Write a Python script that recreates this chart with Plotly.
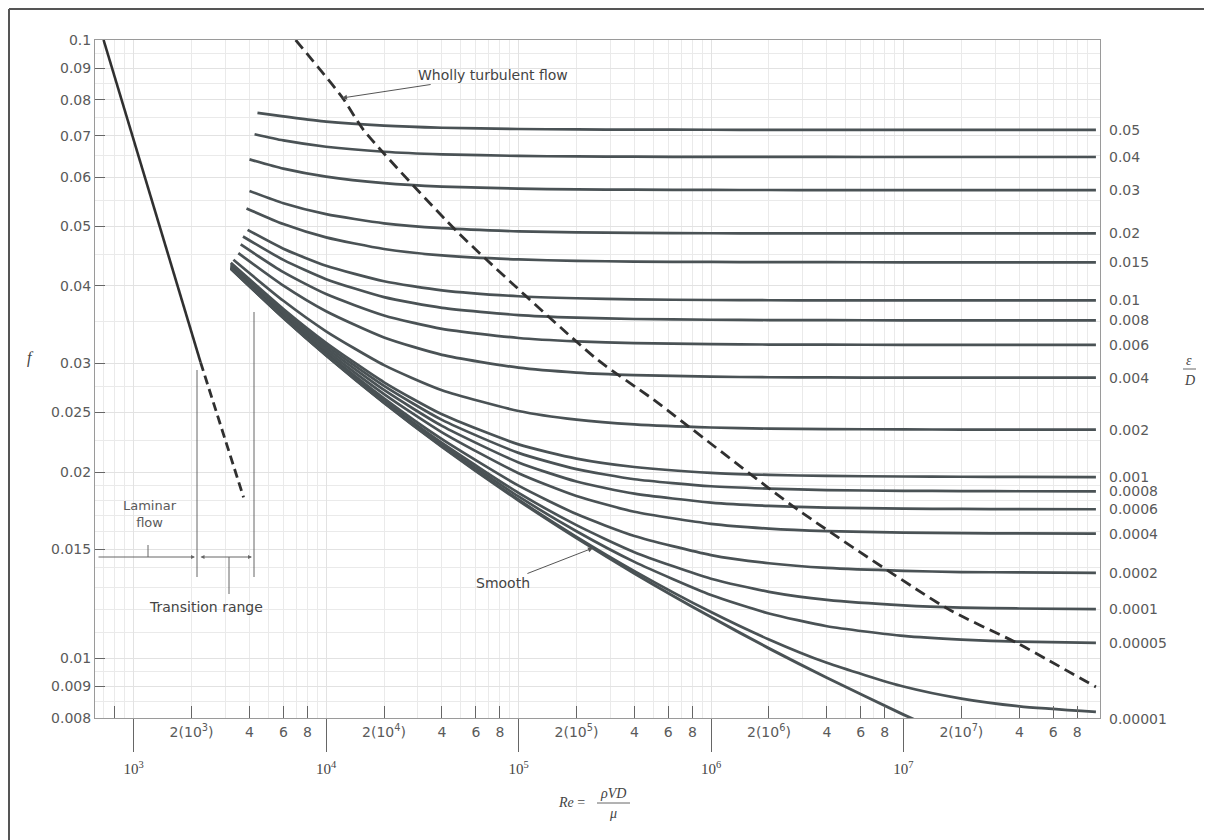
import math
import plotly.graph_objects as go

# ---------------- data ----------------
RE_GRID = [6e3, 1e4, 2e4, 4e4, 1e5, 2e5, 4e5, 1e6, 2e6, 4e6, 1e7, 2e7, 4e7, 1e8]

EPS_LABELS = ["0.05", "0.04", "0.03", "0.02", "0.015", "0.01", "0.008", "0.006",
              "0.004", "0.002", "0.001", "0.0008", "0.0006", "0.0004", "0.0002",
              "0.0001", "0.00005", "0.00001"]
START_RE = [4400, 4250, 4000, 4000, 3860, 3910, 3700, 3600, 3500, 3300,
            3200, 3200, 3200, 3200, 3200, 3200, 3200, 3200]
START_F = [0.0762, 0.0704, 0.0641, 0.0570, 0.0534, 0.0493, 0.0481, 0.0467, 0.0452, 0.0441,
           0.0436, 0.0434, 0.0432, 0.0430, 0.04285, 0.04278, 0.04272, 0.04268]

F_0_05 = [0.07525, 0.07380, 0.07269, 0.07212, 0.07178, 0.07166, 0.07161, 0.07158, 0.07156, 0.07155, 0.07155, 0.07155, 0.07155, 0.07155]
F_0_04 = [0.06879, 0.06719, 0.06595, 0.06532, 0.06493, 0.06480, 0.06474, 0.06470, 0.06469, 0.06468, 0.06467, 0.06467, 0.06467, 0.06467]
F_0_03 = [0.06192, 0.06011, 0.05868, 0.05793, 0.05748, 0.05733, 0.05725, 0.05720, 0.05719, 0.05718, 0.05717, 0.05717, 0.05717, 0.05717]
F_0_02 = [0.05445, 0.05228, 0.05052, 0.04960, 0.04903, 0.04883, 0.04874, 0.04868, 0.04866, 0.04865, 0.04864, 0.04864, 0.04864, 0.04864]
F_0_015 = [0.05037, 0.04793, 0.04591, 0.04483, 0.04415, 0.04392, 0.04381, 0.04374, 0.04371, 0.04370, 0.04369, 0.04369, 0.04369, 0.04369]
F_0_01 = [0.04596, 0.04313, 0.04071, 0.03936, 0.03850, 0.03821, 0.03805, 0.03796, 0.03793, 0.03791, 0.03790, 0.03790, 0.03790, 0.03790]
F_0_008 = [0.04408, 0.04103, 0.03837, 0.03687, 0.03589, 0.03555, 0.03537, 0.03527, 0.03523, 0.03521, 0.03520, 0.03520, 0.03520, 0.03520]
F_0_006 = [0.04211, 0.03881, 0.03584, 0.03410, 0.03295, 0.03254, 0.03233, 0.03220, 0.03216, 0.03214, 0.03213, 0.03212, 0.03212, 0.03212]
F_0_004 = [0.04005, 0.03641, 0.03302, 0.03095, 0.02950, 0.02897, 0.02870, 0.02853, 0.02847, 0.02845, 0.02843, 0.02843, 0.02842, 0.02842]
F_0_002 = [0.03785, 0.03379, 0.02979, 0.02713, 0.02511, 0.02431, 0.02388, 0.02361, 0.02351, 0.02347, 0.02344, 0.02343, 0.02342, 0.02342]
F_0_001 = [0.03671, 0.03237, 0.02794, 0.02480, 0.02217, 0.02103, 0.02038, 0.01994, 0.01979, 0.01971, 0.01967, 0.01965, 0.01964, 0.01963]
F_0_0008 = [0.03645, 0.03209, 0.02757, 0.02429, 0.02148, 0.02022, 0.01947, 0.01897, 0.01880, 0.01870, 0.01865, 0.01863, 0.01862, 0.01861]
F_0_0006 = [0.03622, 0.03179, 0.02715, 0.02375, 0.02073, 0.01931, 0.01845, 0.01785, 0.01763, 0.01752, 0.01745, 0.01743, 0.01742, 0.01741]
F_0_0004 = [0.03600, 0.03150, 0.02674, 0.02319, 0.01991, 0.01829, 0.01725, 0.01649, 0.01620, 0.01605, 0.01596, 0.01593, 0.01591, 0.01590]
F_0_0002 = [0.03577, 0.03120, 0.02631, 0.02260, 0.01901, 0.01710, 0.01576, 0.01468, 0.01424, 0.01399, 0.01384, 0.01378, 0.01376, 0.01374]
F_0_0001 = [0.03563, 0.03104, 0.02610, 0.02229, 0.01851, 0.01641, 0.01484, 0.01344, 0.01280, 0.01242, 0.01217, 0.01207, 0.01203, 0.01200]
F_0_00005 = [0.03556, 0.03097, 0.02599, 0.02214, 0.01826, 0.01604, 0.01431, 0.01265, 0.01181, 0.01126, 0.01086, 0.01071, 0.01063, 0.01058]
F_0_00001 = [0.03552, 0.03090, 0.02590, 0.02201, 0.01804, 0.01571, 0.01383, 0.01187, 0.01072, 0.009825, 0.008995, 0.008599, 0.008356, 0.008187]

SMOOTH_RE = [3200, 6e3, 1e4, 2e4, 4e4, 1e5, 2e5, 4e5, 1e6, 2e6, 4e6, 1e7, 2e7]
SMOOTH_F = [0.04267, 0.03551, 0.03088, 0.02588, 0.02197, 0.01799, 0.01564, 0.01371, 0.01165, 0.01037, 0.009292, 0.008103, 0.007341]

LAMINAR_RE = [698, 2228]
LAMINAR_F = [0.1, 0.0301]
LAMINAR_EXT_RE = [2228, 3726]
LAMINAR_EXT_F = [0.0301, 0.0182]

WHOLLY_RE = [6950, 12190, 15670, 48200, 257000, 502000, 2.81e6, 1.71e7, 3.91e7, 1.0e8]
WHOLLY_F = [0.1, 0.0806, 0.0715, 0.0489, 0.0304, 0.0262, 0.0174, 0.0120, 0.01057, 0.00898]

Y_TICKS = [0.008, 0.009, 0.01, 0.015, 0.02, 0.025, 0.03, 0.04, 0.05, 0.06, 0.07, 0.08, 0.09, 0.1]
Y_TICK_TEXT = ["0.008", "0.009", "0.01", "0.015", "0.02", "0.025", "0.03", "0.04", "0.05",
               "0.06", "0.07", "0.08", "0.09", "0.1"]
X_DECADES = [1e3, 1e4, 1e5, 1e6, 1e7]
X_DECADE_TEXT = ["10<sup>3</sup>", "10<sup>4</sup>", "10<sup>5</sup>", "10<sup>6</sup>", "10<sup>7</sup>"]
X_SUB_TICKS = [8e2, 2e3, 4e3, 6e3, 8e3, 2e4, 4e4, 6e4, 8e4, 2e5, 4e5, 6e5, 8e5,
               2e6, 4e6, 6e6, 8e6, 2e7, 4e7, 6e7, 8e7]
X_SUB_TEXT = ["", "2(10<sup>3</sup>)", "4", "6", "8", "2(10<sup>4</sup>)", "4", "6", "8",
              "2(10<sup>5</sup>)", "4", "6", "8", "2(10<sup>6</sup>)", "4", "6", "8",
              "2(10<sup>7</sup>)", "4", "6", "8"]
X_GRID = [m * 10 ** e for e in range(2, 8) for m in range(1, 10)]
Y_GRID = [0.0085, 0.0095, 0.011, 0.012, 0.013, 0.014, 0.016, 0.017, 0.018, 0.019,
          0.0225, 0.0275, 0.035, 0.045, 0.055, 0.065, 0.075, 0.085, 0.095]

ROUGH_F = [F_0_05, F_0_04, F_0_03, F_0_02, F_0_015, F_0_01, F_0_008, F_0_006, F_0_004,
           F_0_002, F_0_001, F_0_0008, F_0_0006, F_0_0004, F_0_0002, F_0_0001,
           F_0_00005, F_0_00001]

# ---------------- styling / layout ----------------
# page has an 8px body margin: figure is drawn at (8, 8)
OFF = 8
PAGE_W, PAGE_H = 1212, 840
L, R, T, B = 95, 1100, 40, 718          # plot area in page pixels
CURVE = "#4a5255"
DARK = "#303030"
TXT = "#5a5a5a"
SANS = "DejaVu Sans, Verdana, sans-serif"
SERIF = "Liberation Serif, Times New Roman, serif"


def px(x):
    return (x - L) / (R - L)


def py(y):
    return (B - y) / (B - T)


fig = go.Figure()

for lab, s_re, s_f, fl in zip(EPS_LABELS, START_RE, START_F, ROUGH_F):
    fig.add_trace(go.Scatter(x=[s_re] + RE_GRID, y=[s_f] + fl, mode="lines",
                             line=dict(color=CURVE, width=2.7, shape="spline", smoothing=0.6),
                             name=lab, showlegend=False, hoverinfo="skip"))

fig.add_trace(go.Scatter(x=SMOOTH_RE, y=SMOOTH_F, mode="lines",
                         line=dict(color=CURVE, width=2.9, shape="spline", smoothing=0.6),
                         showlegend=False, hoverinfo="skip"))

fig.add_trace(go.Scatter(x=LAMINAR_RE, y=LAMINAR_F, mode="lines",
                         line=dict(color=DARK, width=2.6), showlegend=False, hoverinfo="skip"))
fig.add_trace(go.Scatter(x=LAMINAR_EXT_RE, y=LAMINAR_EXT_F, mode="lines",
                         line=dict(color=DARK, width=2.8, dash="9px,5px"),
                         showlegend=False, hoverinfo="skip"))
fig.add_trace(go.Scatter(x=WHOLLY_RE, y=WHOLLY_F, mode="lines",
                         line=dict(color=DARK, width=2.8, dash="11px,6px", shape="spline", smoothing=0.6),
                         showlegend=False, hoverinfo="skip"))
# empty trace to activate the secondary tick axis
fig.add_trace(go.Scatter(x=[], y=[], xaxis="x2", showlegend=False, hoverinfo="skip"))

xr = [math.log10(630), math.log10(1.05e8)]
yr = [math.log10(0.008), math.log10(0.1)]

fig_w, fig_h = PAGE_W - OFF, PAGE_H - OFF
fig.update_layout(
    width=fig_w, height=fig_h,
    margin=dict(l=L - OFF, r=fig_w - (R - OFF), t=T - OFF, b=fig_h - (B - OFF), pad=0),
    paper_bgcolor="white", plot_bgcolor="white",
    xaxis=dict(type="log", range=xr, tickmode="array", tickvals=X_DECADES, ticktext=X_DECADE_TEXT,
               ticks="outside", ticklen=33, tickwidth=1.2, tickcolor="#666",
               ticklabelstandoff=4,
               tickfont=dict(family=SERIF, size=15, color="#444"),
               showline=True, linecolor="#9a9a9a", linewidth=1, mirror=True,
               showgrid=True, gridcolor="#e2e2e2", gridwidth=1,
               minor=dict(tickmode="array", tickvals=X_GRID, showgrid=True, gridcolor="#eaeaea",
                          gridwidth=1, ticks=""),
               zeroline=False),
    xaxis2=dict(type="log", range=xr, overlaying="x", anchor="y", side="bottom",
                tickmode="array", tickvals=X_SUB_TICKS, ticktext=X_SUB_TEXT,
                ticks="inside", ticklen=12, tickwidth=1.2, tickcolor="#666",
                ticklabelstandoff=4,
                tickfont=dict(family=SANS, size=14, color=TXT),
                showline=False, showgrid=False, zeroline=False),
    yaxis=dict(type="log", range=yr, tickmode="array", tickvals=Y_TICKS, ticktext=Y_TICK_TEXT,
               ticks="inside", ticklen=10, tickwidth=1.2, tickcolor="#666",
               tickfont=dict(family=SANS, size=14, color=TXT),
               showline=True, linecolor="#9a9a9a", linewidth=1, mirror=True,
               showgrid=True, gridcolor="#e2e2e2", gridwidth=1,
               minor=dict(tickmode="array", tickvals=Y_GRID, showgrid=True, gridcolor="#eaeaea",
                          gridwidth=1, ticks=""),
               zeroline=False),
)


def label(x, y, text, font, size, color="#444"):
    return dict(x=px(x), y=py(y), xref="paper", yref="paper", text=text, showarrow=False,
                xanchor="center", yanchor="middle",
                font=dict(family=font, size=size, color=color))


ann = []
# epsilon/D labels at right end of each curve
for lab, fl in zip(EPS_LABELS, ROUGH_F):
    ann.append(dict(x=px(1107), xref="paper", y=math.log10(fl[-1]), yref="y",
                    text=lab, showarrow=False, xanchor="left", yanchor="middle",
                    yshift=-7 if lab == "0.00001" else 0,
                    font=dict(family=SANS, size=14, color=TXT)))

ann += [
    label(30, 358, "<i>f</i>", SERIF, 16),
    label(1189, 360, "<i>ε</i>", SERIF, 14),
    label(1189, 380, "<i>D</i>", SERIF, 14),
    label(571, 802, "<i>Re</i> =", SERIF, 14),
    label(613, 793, "<i>ρVD</i>", SERIF, 14),
    label(613, 813, "<i>μ</i>", SERIF, 14),
    label(150, 514, "Laminar<br>flow", SANS, 13, TXT),
    label(206, 607, "Transition range", SANS, 14),
    dict(x=px(342), y=py(98), xref="paper", yref="paper", text="Wholly turbulent flow",
         showarrow=True, ax=151, ay=-23, arrowhead=2, arrowsize=1, arrowwidth=1, arrowcolor="#555",
         font=dict(family=SANS, size=14, color="#444")),
    dict(x=px(593), y=py(548), xref="paper", yref="paper", text="Smooth",
         showarrow=True, ax=-90, ay=35, arrowhead=2, arrowsize=1, arrowwidth=1, arrowcolor="#555",
         font=dict(family=SANS, size=14, color="#444")),
    # laminar range arrow
    dict(x=px(195), y=py(557), xref="paper", yref="paper", text="", showarrow=True,
         ax=-98, ay=0, arrowhead=2, arrowsize=0.8, arrowwidth=1, arrowcolor="#666"),
    # transition range double arrow
    dict(x=px(252), y=py(557), xref="paper", yref="paper", text="", showarrow=True,
         ax=-53, ay=0, arrowhead=2, startarrowhead=2, arrowside="end+start",
         arrowsize=0.8, startarrowsize=0.8, arrowwidth=1, arrowcolor="#666"),
]
fig.update_layout(annotations=ann)

shp = [
    # frame
    dict(type="line", xref="paper", yref="paper", x0=px(9), x1=px(1212), y0=py(9), y1=py(9),
         line=dict(color="#555", width=2)),
    dict(type="line", xref="paper", yref="paper", x0=px(9), x1=px(9), y0=py(9), y1=py(840),
         line=dict(color="#555", width=2)),
    # fraction bars
    dict(type="line", xref="paper", yref="paper", x0=px(1183), x1=px(1196), y0=py(369), y1=py(369),
         line=dict(color="#666", width=1)),
    dict(type="line", xref="paper", yref="paper", x0=px(597), x1=px(630), y0=py(803), y1=py(803),
         line=dict(color="#666", width=1)),
    # transition markers
    dict(type="line", xref="paper", yref="paper", x0=px(197), x1=px(197), y0=py(370), y1=py(577),
         line=dict(color="#666", width=1)),
    dict(type="line", xref="paper", yref="paper", x0=px(254), x1=px(254), y0=py(312), y1=py(577),
         line=dict(color="#666", width=1)),
    dict(type="line", xref="paper", yref="paper", x0=px(148), x1=px(148), y0=py(545), y1=py(557),
         line=dict(color="#666", width=1)),
    dict(type="line", xref="paper", yref="paper", x0=px(229), x1=px(229), y0=py(557), y1=py(594),
         line=dict(color="#666", width=1)),
]
fig.update_layout(shapes=shp)

fig.write_html("out.html")
